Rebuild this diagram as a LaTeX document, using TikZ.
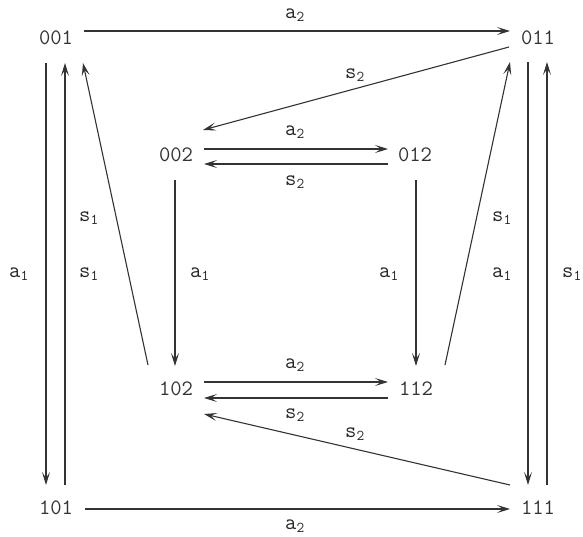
\documentclass[tikz,border=0pt]{standalone}
\usepackage{fontspec}
\usetikzlibrary{arrows.meta}
\tikzset{
  st/.style={font=\ttfamily\fontsize{22}{22}\selectfont, inner sep=0pt, text=black!80},
  lb/.style={font=\ttfamily\fontsize{22}{22}\selectfont, inner sep=0pt, text=black!85},
  ed/.style={line width=1.1pt, draw=black!80, -{Stealth[length=13pt,width=8pt,inset=6pt]}}
}
\newcommand{\lab}[2]{#1\textsubscript{\fontsize{15}{15}\selectfont #2}}
\begin{document}
\begin{tikzpicture}[x=1pt,y=-1pt]
\useasboundingbox (0,0) rectangle (583,537);
% states
\node[st] (n001) at (56,38) {001};
\node[st] (n011) at (538,38) {011};
\node[st] (n002) at (176,155) {002};
\node[st] (n012) at (415,155) {012};
\node[st] (n102) at (176,389) {102};
\node[st] (n112) at (416,389) {112};
\node[st] (n101) at (56,508) {101};
\node[st] (n111) at (538,508) {111};
% edges
\draw[ed] ([shift={(28,-7)}]n001.center) -- ([shift={(-28,-7)}]n011.center);
\draw[ed] ([shift={(-29,9)}]n011.center) -- ([shift={(27,-25)}]n002.center);
\draw[ed] ([shift={(28,-6)}]n002.center) -- ([shift={(-27,-6)}]n012.center);
\draw[ed] ([shift={(-27,9)}]n012.center) -- ([shift={(28,9)}]n002.center);
\draw[ed] ([shift={(-1,25)}]n002.center) -- ([shift={(-1,-23)}]n102.center);
\draw[ed] ([shift={(1,25)}]n012.center) -- ([shift={(0,-23)}]n112.center);
\draw[ed] ([shift={(28,-7)}]n102.center) -- ([shift={(-28,-7)}]n112.center);
\draw[ed] ([shift={(-28,9)}]n112.center) -- ([shift={(28,9)}]n102.center);
\draw[ed] ([shift={(-28,-23)}]n111.center) -- ([shift={(28,25)}]n102.center);
\draw[ed] ([shift={(29,1)}]n101.center) -- ([shift={(-28,1)}]n111.center);
\draw[ed] ([shift={(-10,25)}]n001.center) -- ([shift={(-10,-23)}]n101.center);
\draw[ed] ([shift={(9,-23)}]n101.center) -- ([shift={(9,25)}]n001.center);
\draw[ed] ([shift={(-28,-24)}]n102.center) -- ([shift={(27,25)}]n001.center);
\draw[ed] ([shift={(29,-24)}]n112.center) -- ([shift={(-28,24)}]n011.center);
\draw[ed] ([shift={(-10,24)}]n011.center) -- ([shift={(-10,-23)}]n111.center);
\draw[ed] ([shift={(9,-23)}]n111.center) -- ([shift={(9,24)}]n011.center);
% labels
\node[lb] (l1) at (295,15) {\lab{a}{2}};
\node[lb] (l2) at (355,75) {\lab{s}{2}};
\node[lb] (l3) at (295,132) {\lab{a}{2}};
\node[lb] (l4) at (295,182) {\lab{s}{2}};
\node[lb] (l5) at (295,365) {\lab{a}{2}};
\node[lb] (l6) at (295,415) {\lab{s}{2}};
\node[lb] (l7) at (355,434) {\lab{s}{2}};
\node[lb] (l8) at (295,526) {\lab{a}{2}};
\node[lb] (l9) at (19,274) {\lab{a}{1}};
\node[lb] (l10) at (89,218) {\lab{s}{1}};
\node[lb] (l11) at (89,274) {\lab{s}{1}};
\node[lb] (l12) at (200,274) {\lab{a}{1}};
\node[lb] (l13) at (389,274) {\lab{a}{1}};
\node[lb] (l14) at (502,218) {\lab{s}{1}};
\node[lb] (l15) at (502,274) {\lab{a}{1}};
\node[lb] (l16) at (572,274) {\lab{s}{1}};
\end{tikzpicture}
\end{document}
